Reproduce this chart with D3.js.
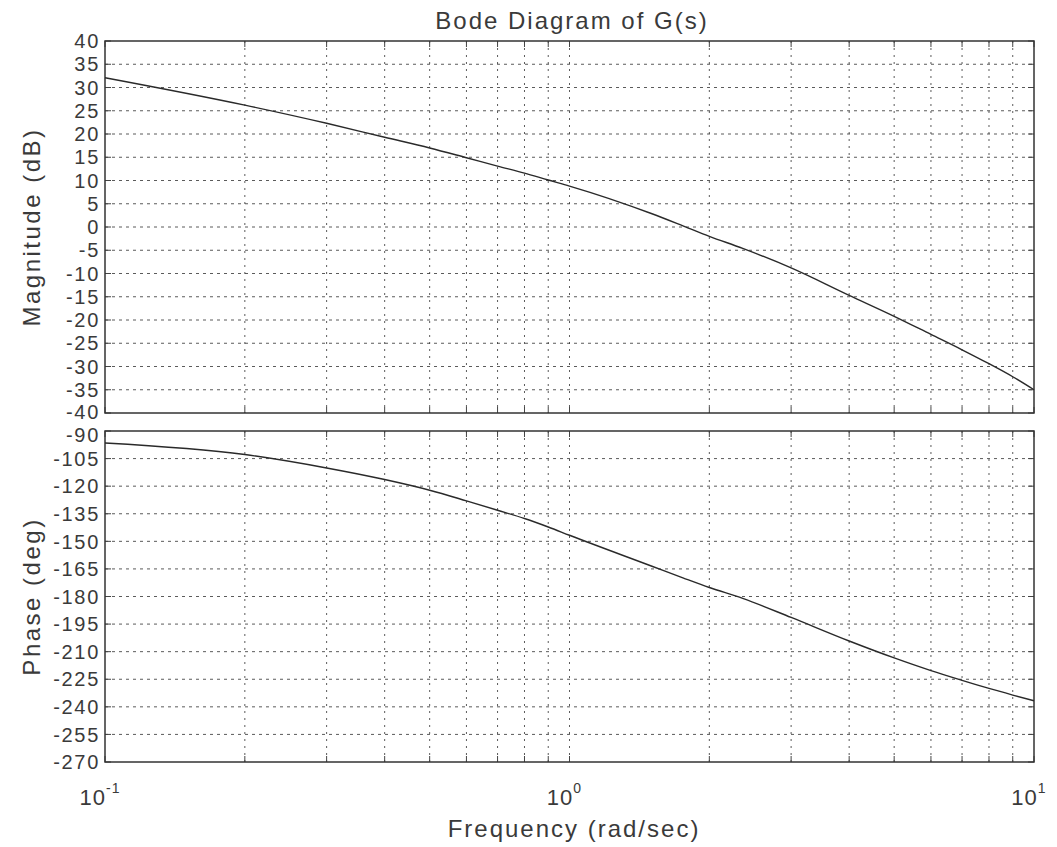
<!DOCTYPE html>
<html>
<head>
<meta charset="utf-8">
<script src="https://cdn.jsdelivr.net/npm/d3@7"></script>
<style>
  body { margin: 0; background: #fff; }
  svg text { font-family: "Liberation Sans", Arial, sans-serif; fill: #3a3a3a; }
</style>
</head>
<body>
<div id="chart"></div>
<script>
// values
const frequency = [0.1, 0.2, 0.3, 0.4, 0.5, 0.6, 0.7, 0.8, 0.9, 1.0, 1.5, 1.76, 2.0, 2.36, 3, 4, 5, 6, 7, 8, 9, 10];
const magnitudeDb = [32.1, 26.2, 22.3, 19.3, 17.0, 14.9, 13.1, 11.6, 10.1, 8.8, 2.9, 0.2, -2.0, -4.6, -8.8, -14.7, -19.2, -23.1, -26.4, -29.4, -32.2, -35.0];
const phaseDeg = [-96.5, -102.8, -110.1, -116.4, -122.2, -128.0, -133.1, -137.6, -142.2, -146.7, -163.4, -170.0, -175.1, -181.0, -191.4, -204.2, -213.4, -220.3, -225.6, -230.0, -233.6, -236.7];

const magTicks = d3.range(40, -41, -5);
const phaseTicks = d3.range(-90, -271, -15);
const decadeLabels = [{ v: 0.1, exp: '-1' }, { v: 1, exp: '0' }, { v: 10, exp: '1' }];

const width = 1057, height = 847;
const left = 105, right = 1034;

const svg = d3.select('#chart').append('svg')
  .attr('width', width)
  .attr('height', height);

const x = d3.scaleLog().domain([0.1, 10]).range([left, right]);

// every 1..9 x decade for the log grid
const xGrid = [];
[0.1, 1].forEach(dec => {
  for (let k = 1; k <= 9; k++) xGrid.push(dec * k);
});
xGrid.push(10);

function panel(top, bottom, domain, ticks, values, label, nudge) {
  const y = d3.scaleLinear().domain(domain).range([top, bottom]);
  const g = svg.append('g');

  // grid
  g.selectAll('.vgrid')
    .data(xGrid.filter(v => v > 0.1 && v < 10))
    .enter().append('line')
    .attr('x1', d => x(d)).attr('x2', d => x(d))
    .attr('y1', top).attr('y2', bottom)
    .attr('stroke', '#333')
    .attr('stroke-width', 1)
    .attr('stroke-dasharray', '2,5')
    .attr('opacity', 0.8);

  g.selectAll('.hgrid')
    .data(ticks.slice(1, -1))
    .enter().append('line')
    .attr('x1', left).attr('x2', right)
    .attr('y1', d => y(d)).attr('y2', d => y(d))
    .attr('stroke', '#333')
    .attr('stroke-width', 1)
    .attr('stroke-dasharray', '3,4')
    .attr('opacity', 0.8);

  // inward ticks on the frame
  xGrid.forEach(v => {
    g.append('line').attr('x1', x(v)).attr('x2', x(v)).attr('y1', top).attr('y2', top + 6)
      .attr('stroke', '#444');
    g.append('line').attr('x1', x(v)).attr('x2', x(v)).attr('y1', bottom).attr('y2', bottom - 6)
      .attr('stroke', '#444');
  });
  ticks.forEach(v => {
    g.append('line').attr('x1', left).attr('x2', left + 6).attr('y1', y(v)).attr('y2', y(v))
      .attr('stroke', '#444');
    g.append('line').attr('x1', right).attr('x2', right - 6).attr('y1', y(v)).attr('y2', y(v))
      .attr('stroke', '#444');
  });

  // frame
  g.append('rect')
    .attr('x', left).attr('y', top)
    .attr('width', right - left).attr('height', bottom - top)
    .attr('fill', 'none')
    .attr('stroke', '#333')
    .attr('stroke-width', 1.5);

  // y tick labels
  g.selectAll('.ylab')
    .data(ticks)
    .enter().append('text')
    .attr('x', left - 5)
    .attr('y', d => y(d) + (nudge[d] || 0))
    .attr('dy', '0.36em')
    .attr('text-anchor', 'end')
    .style('font-size', '20px')
    .style('letter-spacing', '1.7px')
    .text(d => d);

  // axis title
  g.append('text')
    .attr('transform', `translate(40,${(top + bottom) / 2}) rotate(-90)`)
    .attr('text-anchor', 'middle')
    .style('font-size', '24px')
    .style('letter-spacing', '2.5px')
    .text(label);

  // curve
  const line = d3.line()
    .x((d, i) => x(frequency[i]))
    .y(d => y(d))
    .curve(d3.curveMonotoneX);

  g.append('path')
    .datum(values)
    .attr('fill', 'none')
    .attr('stroke', '#2a2a2a')
    .attr('stroke-width', 1.4)
    .attr('d', line);
}

panel(41, 413, [40, -40], magTicks, magnitudeDb, 'Magnitude (dB)', { '-40': -1 });
panel(431, 762, [-90, -270], phaseTicks, phaseDeg, 'Phase (deg)', { '-90': 4 });

// x decade labels
decadeLabels.forEach(d => {
  const t = svg.append('text')
    .attr('x', x(d.v) - 5)
    .attr('y', 805)
    .attr('text-anchor', 'middle')
    .style('font-size', '22px')
    .style('letter-spacing', '1px');
  t.append('tspan').text('10');
  t.append('tspan').attr('dy', -12).style('font-size', '14px').text(d.exp);
});

svg.append('text')
  .attr('x', 574).attr('y', 837)
  .attr('text-anchor', 'middle')
  .style('font-size', '24px')
  .style('letter-spacing', '2px')
  .text('Frequency  (rad/sec)');

svg.append('text')
  .attr('x', 572).attr('y', 29)
  .attr('text-anchor', 'middle')
  .style('font-size', '24px')
  .style('letter-spacing', '2px')
  .text('Bode Diagram of G(s)');
</script>
</body>
</html>
